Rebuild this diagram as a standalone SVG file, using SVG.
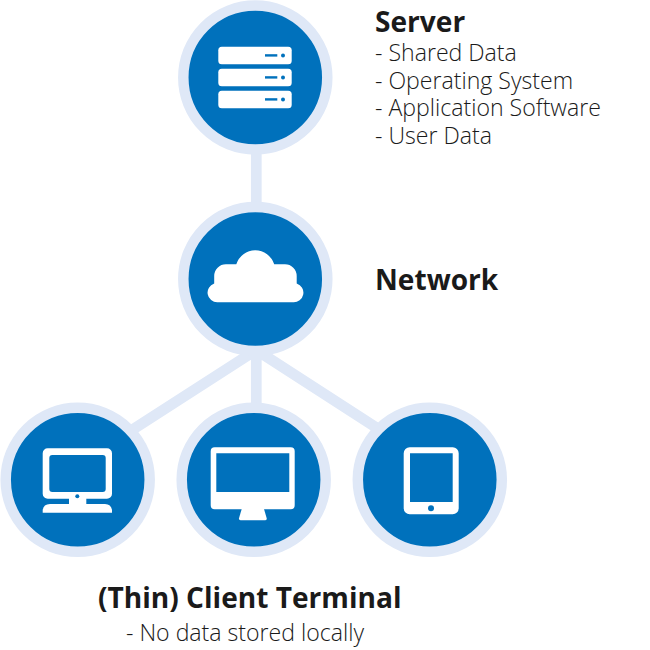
<svg xmlns="http://www.w3.org/2000/svg" width="650" height="650" viewBox="0 0 650 650">
<style>
.ring{fill:#0071bc;stroke:#dfe8f7;stroke-width:10.500}
.link{stroke:#dfe8f7;stroke-width:10.700;fill:none}
.w{fill:#fff}
.b{fill:#0071bc}
.h{font-family:"Open Sans",sans-serif;font-weight:700;font-size:28.100px;fill:#1a1a1a}
.t{font-family:"Open Sans",sans-serif;font-weight:300;font-size:23.100px;fill:#1a1a1a}
</style>
<rect width="650" height="650" fill="#fff"/>
<g id="connectors">
<path class="link" d="M256.300 150V210M256.300 350V410M256.300 350L132 430M256.300 350L380 430"/>
</g>
<g id="server"><circle class="ring" cx="255.300" cy="77.500" r="72"/>
<rect class="w" x="218.300" y="46.700" width="73.400" height="17.500" rx="3.500"/><rect class="w" x="218.300" y="68.700" width="73.400" height="17.500" rx="3.500"/><rect class="w" x="218.300" y="90.700" width="73.400" height="17.500" rx="3.500"/>
<rect class="b" x="265" y="54.200" width="12.300" height="2.400"/><rect class="b" x="265" y="76.200" width="12.300" height="2.400"/><rect class="b" x="265" y="98.200" width="12.300" height="2.400"/>
<circle class="b" cx="283" cy="55.400" r="2"/><circle class="b" cx="283" cy="77.400" r="2"/><circle class="b" cx="283" cy="99.400" r="2"/>
<text class="h" x="375" y="32">Server</text>
<text class="t" x="375" y="61">- Shared Data</text><text class="t" x="375" y="88.500">- Operating System</text><text class="t" x="375" y="116">- Application Software</text><text class="t" x="375" y="144">- User Data</text></g>
<g id="network"><circle class="ring" cx="255.300" cy="279" r="72"/>
<path class="w" d="M217.500 302.300A9.700 9.700 0 0 1 214.200 283.400V276A11.700 11.700 0 0 1 225.900 264.300H236.300A19.800 19.800 0 0 1 274.200 264.300H285A11.700 11.700 0 0 1 296.700 276V283.400A9.700 9.700 0 0 1 293 302.300Z"/>
<text class="h" x="375" y="290">Network</text></g>
<g id="client1"><circle class="ring" cx="77.700" cy="479.800" r="72"/>
<path class="w" fill-rule="evenodd" d="M47.700 448.300H107A5 5 0 0 1 112 453.300V493.700A5 5 0 0 1 107 498.700H47.700A5 5 0 0 1 42.700 493.700V453.300A5 5 0 0 1 47.700 448.300ZM52.300 455A3 3 0 0 0 49.300 458V489A3 3 0 0 0 52.300 492H102.700A3 3 0 0 0 105.700 489V458A3 3 0 0 0 102.700 455Z"/>
<rect class="w" x="69" y="498" width="17.300" height="7"/>
<path class="w" d="M42.700 512.700V510Q43.500 504 50 504H105Q111 504 112 510V512.700Z"/>
<circle class="b" cx="77.300" cy="496.300" r="2"/></g>
<g id="client2"><circle class="ring" cx="253.700" cy="479.800" r="72"/>
<path class="w" fill-rule="evenodd" d="M214.700 447.300H290.700A4 4 0 0 1 294.700 451.300V505.300A4 4 0 0 1 290.700 509.300H214.700A4 4 0 0 1 210.700 505.300V451.300A4 4 0 0 1 214.700 447.300ZM216.300 453.300V492H289.300V453.300Z"/>
<path class="w" d="M241.700 509H264L266.700 518.300Q267 520.300 265 520.300H240.500Q238.700 520.300 239 518.300Z"/></g>
<g id="client3"><circle class="ring" cx="429.800" cy="479.800" r="72"/>
<path class="w" fill-rule="evenodd" d="M409.700 447.300H452.700A6 6 0 0 1 458.700 453.300V508.300A6 6 0 0 1 452.700 514.300H409.700A6 6 0 0 1 403.700 508.300V453.300A6 6 0 0 1 409.700 447.300ZM410 453.300V502H452.700V453.300Z"/>
<circle class="b" cx="431" cy="508.300" r="3"/></g>
<text class="h" x="98" y="608">(Thin) Client Terminal</text>
<text class="t" x="126" y="641">- No data stored locally</text>
</svg>
